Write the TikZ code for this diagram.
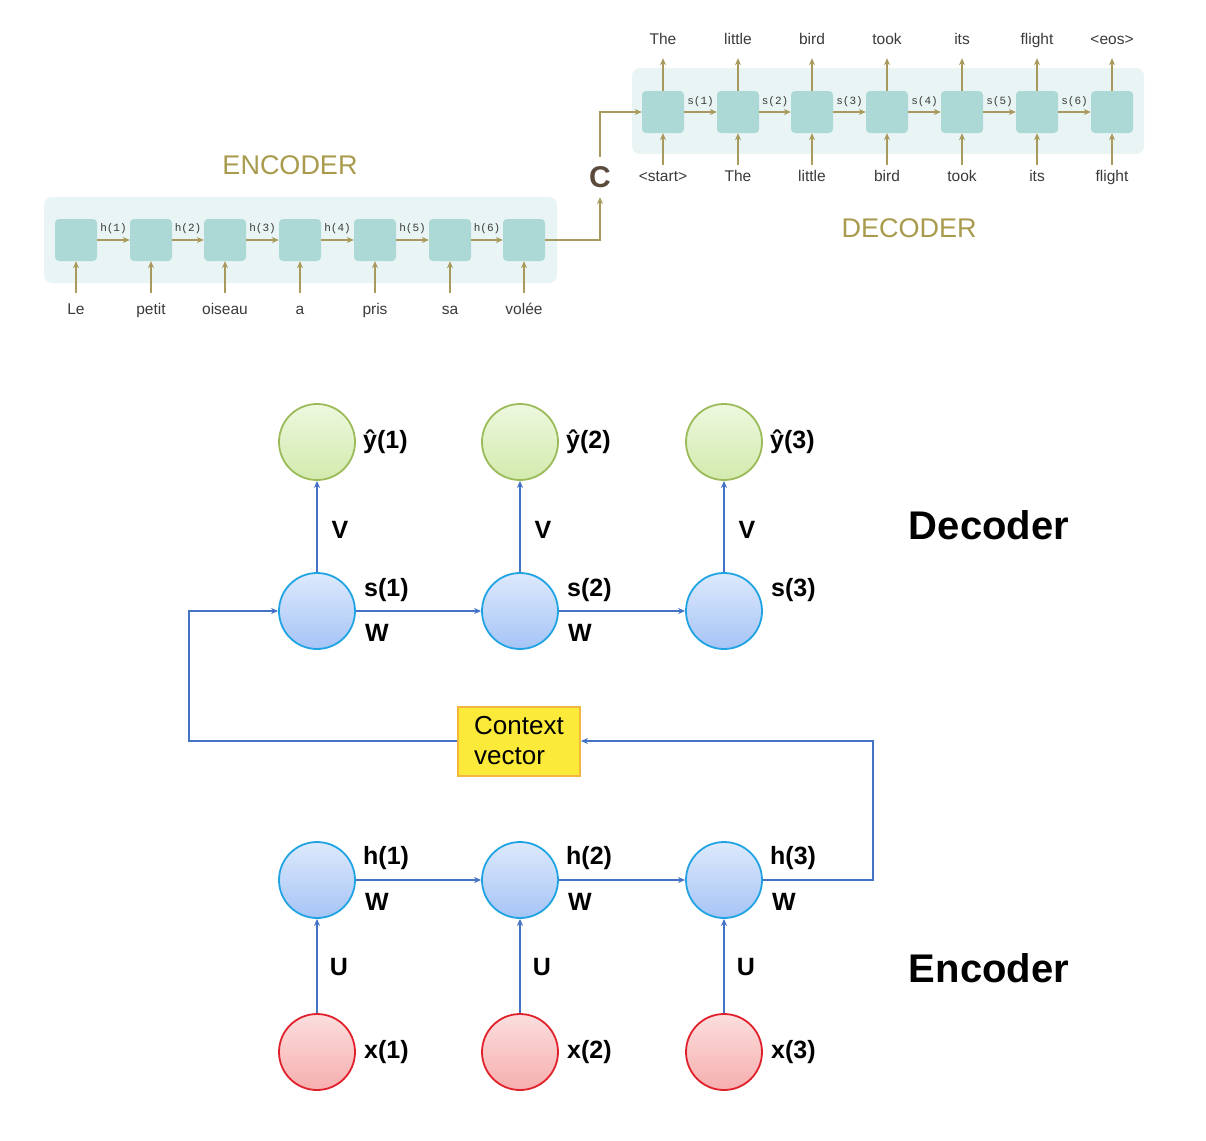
\documentclass[tikz,border=0pt]{standalone}
\usepackage{fontspec}
\setmainfont{Liberation Sans}
\setmonofont{Liberation Mono}
\usetikzlibrary{arrows.meta,positioning}

\definecolor{topline}{HTML}{A89A5C}
\definecolor{toptitle}{HTML}{A99B4E}
\definecolor{cellteal}{HTML}{ACD8D5}
\definecolor{bgteal}{HTML}{E9F4F4}
\definecolor{wordgray}{HTML}{3A3A3A}
\definecolor{cbrown}{HTML}{5A4A3C}
\definecolor{linkblue}{HTML}{4472C4}
\definecolor{ygreen}{HTML}{9BBB59}
\definecolor{ytop}{HTML}{EEF8DF}
\definecolor{ybot}{HTML}{D2EAAD}
\definecolor{sblue}{HTML}{1FA3E3}
\definecolor{stop}{HTML}{DDE9FC}
\definecolor{sbot}{HTML}{A6C4F6}
\definecolor{xred}{HTML}{E0202B}
\definecolor{xtop}{HTML}{FCDEDE}
\definecolor{xbot}{HTML}{F6AEAE}
\definecolor{ctxyellow}{HTML}{FCEA3A}
\definecolor{ctxorange}{HTML}{F2B73C}

\tikzstyle{cell}=[rectangle,rounded corners=4pt,fill=cellteal,minimum size=42pt,inner sep=0pt]
\tikzstyle{word}=[font=\fontsize{15.5}{18}\selectfont,text=wordgray,inner sep=2pt,text height=11pt,text depth=3pt]
\tikzstyle{hlab}=[font=\fontsize{11}{13}\selectfont\ttfamily,text=wordgray,inner sep=0pt]
\tikzstyle{toptitle}=[font=\fontsize{27}{30}\selectfont,text=toptitle]
\tikzstyle{cnode}=[font=\fontsize{30}{32}\selectfont\bfseries,text=cbrown,inner sep=0pt,minimum height=40pt]
\tikzstyle{flow}=[draw=topline,line width=1.5pt,-{Stealth[length=7pt,width=6pt]}]
\tikzstyle{ynode}=[circle,draw=ygreen,line width=1.8pt,top color=ytop,bottom color=ybot,minimum size=76pt,inner sep=0pt]
\tikzstyle{snode}=[circle,draw=sblue,line width=1.8pt,top color=stop,bottom color=sbot,minimum size=76pt,inner sep=0pt]
\tikzstyle{xnode}=[circle,draw=xred,line width=1.8pt,top color=xtop,bottom color=xbot,minimum size=76pt,inner sep=0pt]
\tikzstyle{tag}=[font=\fontsize{25}{28}\selectfont\bfseries,inner sep=0pt]
\tikzstyle{title}=[font=\fontsize{40}{44}\selectfont\bfseries,inner sep=0pt]
\tikzstyle{ctxbox}=[rectangle,fill=ctxyellow,draw=ctxorange,line width=2pt,minimum width=122pt,minimum height=69pt,align=left,font=\fontsize{26}{30}\selectfont]
\tikzstyle{link}=[draw=linkblue,line width=1.3pt,-{Stealth[length=7pt,width=6pt]}]

\begin{document}
\begin{tikzpicture}[x=1pt,y=-1pt]
    \useasboundingbox (0,0) rectangle (1206,1140);

    \fill[bgteal,rounded corners=8pt] (44,197) rectangle (557,283);
    \fill[bgteal,rounded corners=8pt] (632,68) rectangle (1144,154);

    \node (enc)[toptitle] at (290,165) {ENCODER};
    \node (dec)[toptitle] at (909,228) {DECODER};

    \node (e1)[cell] at (76,240) {};
    \node (e2)[cell] at (151,240) {};
    \node (e3)[cell] at (225,240) {};
    \node (e4)[cell] at (300,240) {};
    \node (e5)[cell] at (375,240) {};
    \node (e6)[cell] at (450,240) {};
    \node (e7)[cell] at (524,240) {};

    \node (hl1)[hlab] at (113.5,229) {h(1)};
    \node (hl2)[hlab] at (188,229) {h(2)};
    \node (hl3)[hlab] at (262.5,229) {h(3)};
    \node (hl4)[hlab] at (337.5,229) {h(4)};
    \node (hl5)[hlab] at (412.5,229) {h(5)};
    \node (hl6)[hlab] at (487,229) {h(6)};

    \node (w1)[word] at (76,310) {Le};
    \node (w2)[word] at (151,310) {petit};
    \node (w3)[word] at (225,310) {oiseau};
    \node (w4)[word] at (300,310) {a};
    \node (w5)[word] at (375,310) {pris};
    \node (w6)[word] at (450,310) {sa};
    \node (w7)[word] at (524,310) {volée};

    \draw[flow] (e1) -- (e2);
    \draw[flow] (e2) -- (e3);
    \draw[flow] (e3) -- (e4);
    \draw[flow] (e4) -- (e5);
    \draw[flow] (e5) -- (e6);
    \draw[flow] (e6) -- (e7);

    \draw[flow,shorten <=8pt] (w1) -- (e1);
    \draw[flow,shorten <=8pt] (w2) -- (e2);
    \draw[flow,shorten <=8pt] (w3) -- (e3);
    \draw[flow,shorten <=8pt] (w4) -- (e4);
    \draw[flow,shorten <=8pt] (w5) -- (e5);
    \draw[flow,shorten <=8pt] (w6) -- (e6);
    \draw[flow,shorten <=8pt] (w7) -- (e7);

    \node (C)[cnode] at (600,177) {C};

    \node (d1)[cell] at (663,112) {};
    \node (d2)[cell] at (738,112) {};
    \node (d3)[cell] at (812,112) {};
    \node (d4)[cell] at (887,112) {};
    \node (d5)[cell] at (962,112) {};
    \node (d6)[cell] at (1037,112) {};
    \node (d7)[cell] at (1112,112) {};

    \node (sl1)[hlab] at (700.5,102) {s(1)};
    \node (sl2)[hlab] at (775,102) {s(2)};
    \node (sl3)[hlab] at (849.5,102) {s(3)};
    \node (sl4)[hlab] at (924.5,102) {s(4)};
    \node (sl5)[hlab] at (999.5,102) {s(5)};
    \node (sl6)[hlab] at (1074.5,102) {s(6)};

    \node (o1)[word] at (663,41) {The};
    \node (o2)[word] at (738,41) {little};
    \node (o3)[word] at (812,41) {bird};
    \node (o4)[word] at (887,41) {took};
    \node (o5)[word] at (962,41) {its};
    \node (o6)[word] at (1037,41) {flight};
    \node (o7)[word] at (1112,41) {<eos>};

    \node (i1)[word] at (663,177) {<start>};
    \node (i2)[word] at (738,177) {The};
    \node (i3)[word] at (812,177) {little};
    \node (i4)[word] at (887,177) {bird};
    \node (i5)[word] at (962,177) {took};
    \node (i6)[word] at (1037,177) {its};
    \node (i7)[word] at (1112,177) {flight};

    \draw[flow] (d1) -- (d2);
    \draw[flow] (d2) -- (d3);
    \draw[flow] (d3) -- (d4);
    \draw[flow] (d4) -- (d5);
    \draw[flow] (d5) -- (d6);
    \draw[flow] (d6) -- (d7);

    \draw[flow,shorten >=8pt] (d1) -- (o1);
    \draw[flow,shorten >=8pt] (d2) -- (o2);
    \draw[flow,shorten >=8pt] (d3) -- (o3);
    \draw[flow,shorten >=8pt] (d4) -- (o4);
    \draw[flow,shorten >=8pt] (d5) -- (o5);
    \draw[flow,shorten >=8pt] (d6) -- (o6);
    \draw[flow,shorten >=8pt] (d7) -- (o7);

    \draw[flow,shorten <=3pt] (i1) -- (d1);
    \draw[flow,shorten <=3pt] (i2) -- (d2);
    \draw[flow,shorten <=3pt] (i3) -- (d3);
    \draw[flow,shorten <=3pt] (i4) -- (d4);
    \draw[flow,shorten <=3pt] (i5) -- (d5);
    \draw[flow,shorten <=3pt] (i6) -- (d6);
    \draw[flow,shorten <=3pt] (i7) -- (d7);

    \draw[flow] (e7.east) -| (C.south);
    \draw[flow] (C.north) |- (d1.west);

    \node (y1)[ynode] at (317,442) {};
    \node (y2)[ynode] at (520,442) {};
    \node (y3)[ynode] at (724,442) {};
    \node (s1)[snode] at (317,611) {};
    \node (s2)[snode] at (520,611) {};
    \node (s3)[snode] at (724,611) {};
    \node (h1)[snode] at (317,880) {};
    \node (h2)[snode] at (520,880) {};
    \node (h3)[snode] at (724,880) {};
    \node (x1)[xnode] at (317,1052) {};
    \node (x2)[xnode] at (520,1052) {};
    \node (x3)[xnode] at (724,1052) {};

    \node (ly1)[tag,anchor=west] at (363,442) {ŷ(1)};
    \node (ly2)[tag,anchor=west] at (566,442) {ŷ(2)};
    \node (ly3)[tag,anchor=west] at (770,442) {ŷ(3)};
    \node (lv1)[tag] at (340,530) {V};
    \node (lv2)[tag] at (543,530) {V};
    \node (lv3)[tag] at (747,530) {V};
    \node (ls1)[tag,anchor=west] at (364,590) {s(1)};
    \node (ls2)[tag,anchor=west] at (567,590) {s(2)};
    \node (ls3)[tag,anchor=west] at (771,590) {s(3)};
    \node (lw1)[tag,anchor=west] at (365,633) {W};
    \node (lw2)[tag,anchor=west] at (568,633) {W};
    \node (lh1)[tag,anchor=west] at (363,858) {h(1)};
    \node (lh2)[tag,anchor=west] at (566,858) {h(2)};
    \node (lh3)[tag,anchor=west] at (770,858) {h(3)};
    \node (lw3)[tag,anchor=west] at (365,902) {W};
    \node (lw4)[tag,anchor=west] at (568,902) {W};
    \node (lw5)[tag,anchor=west] at (772,902) {W};
    \node (lu1)[tag] at (339,967) {U};
    \node (lu2)[tag] at (542,967) {U};
    \node (lu3)[tag] at (746,967) {U};
    \node (lx1)[tag,anchor=west] at (364,1052) {x(1)};
    \node (lx2)[tag,anchor=west] at (567,1052) {x(2)};
    \node (lx3)[tag,anchor=west] at (771,1052) {x(3)};

    \node (decoder)[title] at (989,525) {Decoder};
    \node (encoder)[title] at (989,968) {Encoder};

    \node (ctx)[ctxbox] at (519,741) {Context\\vector};

    \draw[link] (s1) -- (y1);
    \draw[link] (s2) -- (y2);
    \draw[link] (s3) -- (y3);
    \draw[link] (s1) -- (s2);
    \draw[link] (s2) -- (s3);

    \draw[link] (x1) -- (h1);
    \draw[link] (x2) -- (h2);
    \draw[link] (x3) -- (h3);
    \draw[link] (h1) -- (h2);
    \draw[link] (h2) -- (h3);

    \coordinate (bendl) at (189,741);
    \coordinate (bendr) at (873,880);
    \draw[link] (ctx.west) -- (bendl) |- (s1.west);
    \draw[link] (h3.east) -- (bendr) |- (ctx.east);
\end{tikzpicture}
\end{document}
